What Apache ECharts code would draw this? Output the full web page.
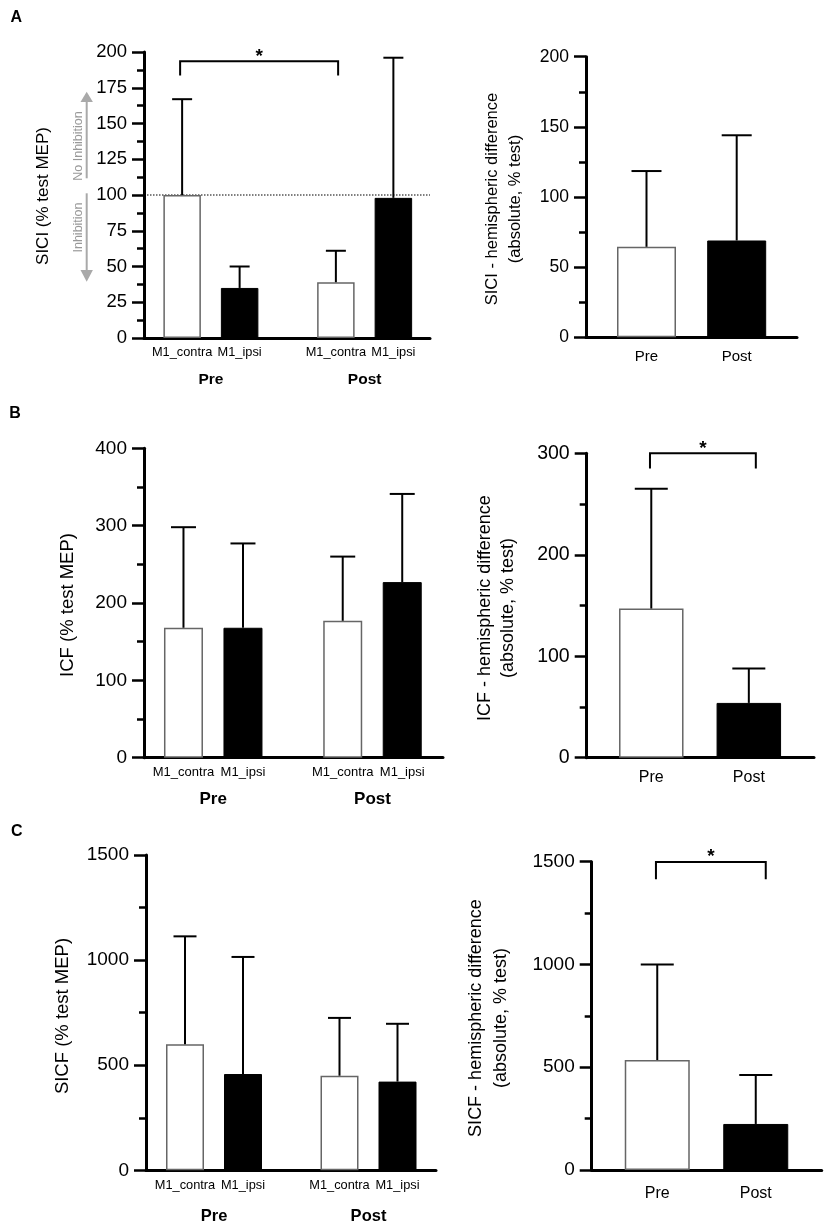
<!DOCTYPE html>
<html>
<head>
<meta charset="utf-8">
<script src="https://cdn.jsdelivr.net/npm/echarts@6/dist/echarts.min.js"></script>
<style>
  html, body { margin: 0; padding: 0; background: #fff; }
  #chart { width: 829px; height: 1228px; }
</style>
</head>
<body>
<div id="chart"></div>
<script>
// ---- data ----
const groups = ['Pre', 'Post'];
const hemispheres = ['M1_contra', 'M1_ipsi'];

// SICI (% test MEP): mean and SD
const siciContra = [100, 39];
const siciContraSd = [67, 22];
const siciIpsi = [35, 98];
const siciIpsiSd = [15, 98];
// SICI hemispheric difference
const siciDiff = [64.5, 69];
const siciDiffSd = [54, 75];

// ICF (% test MEP)
const icfContra = [168, 177];
const icfContraSd = [130, 83];
const icfIpsi = [168, 227];
const icfIpsiSd = [109, 114];
const icfDiff = [147, 54];
const icfDiffSd = [118, 34];

// SICF (% test MEP)
const sicfContra = [600, 450];
const sicfContraSd = [513, 275];
const sicfIpsi = [458, 422];
const sicfIpsiSd = [557, 275];
const sicfDiff = [535, 224];
const sicfDiffSd = [465, 238];

// significance brackets: [fromGroup, toGroup, bracket top, leg bottom]
const siciSig = [[0, 1, 193.5, 183.5]];
const icfDiffSig = [[0, 1, 300, 285]];
const sicfDiffSig = [[0, 1, 1498, 1415]];

// y scales: [max, interval]
const siciScale = [200, 25];
const siciDiffScale = [200, 50];
const icfScale = [400, 100];
const icfDiffScale = [300, 100];
const sicfScale = [1500, 500];
const sicfDiffScale = [1500, 500];

const siciRef = 100;

// ---- layout / style ----
const FONT = '"Liberation Sans", Arial, Helvetica, sans-serif';
const fills = [
  { color: '#fff', borderColor: '#666', borderWidth: 1.5 },
  { color: '#000', borderColor: '#000', borderWidth: 1 }
];

const L = {
  AL: { x0: 144, x1: 430, y0: 52, y1: 338, d0: 134, d1: 441.5, bw: 37.5, gap: 20, cap: 20,
        tickFont: 18.5, catFont: 15.5, catBold: true, catMargin: 34, subFont: 12.8, subDist: 8 },
  AR: { x0: 586, x1: 797, y0: 56.7, y1: 337.3, d0: 601.4, d1: 781.8, bw: 59, cap: 30,
        tickFont: 17.5, catFont: 15, catBold: false, catMargin: 12 },
  BL: { x0: 144, x1: 443, y0: 448.3, y1: 757.7, d0: 133.6, d1: 452.1, bw: 39, gap: 20.5, cap: 25,
        tickFont: 19, catFont: 17, catBold: true, catMargin: 33, subFont: 13, subDist: 8 },
  BR: { x0: 586.7, x1: 814, y0: 453.3, y1: 757.7, d0: 602.5, d1: 797.6, bw: 64.5, cap: 33,
        tickFont: 19.5, catFont: 16, catBold: false, catMargin: 12 },
  CL: { x0: 146, x1: 436, y0: 855, y1: 1170.3, d0: 136.75, d1: 445.75, bw: 38, gap: 20, cap: 23,
        tickFont: 19, catFont: 16.5, catBold: true, catMargin: 38, subFont: 12.8, subDist: 9 },
  CR: { x0: 591.7, x1: 821.7, y0: 861.7, y1: 1170, d0: 608, d1: 805, bw: 65, cap: 33,
        tickFont: 19, catFont: 16, catBold: false, catMargin: 16 }
};

const grids = [], xAxes = [], yAxes = [], series = [];

function addAxes(lay, scale) {
  const fi = grids.length;
  grids.push({ left: lay.x0, top: lay.y0, width: lay.x1 - lay.x0, height: lay.y1 - lay.y0, outerBoundsMode: 'none' });
  xAxes.push({
    gridIndex: fi, type: 'category', data: groups.map(() => ''),
    axisLine: { show: true, lineStyle: { color: '#000', width: 3 } },
    axisTick: { show: false }, axisLabel: { show: false }, splitLine: { show: false }
  });
  yAxes.push({
    gridIndex: fi, type: 'value', min: 0, max: scale[0], interval: scale[1],
    axisLine: { show: true, lineStyle: { color: '#000', width: 3 } },
    axisTick: { show: true, length: 12, lineStyle: { color: '#000', width: 2.5 } },
    minorTick: { show: true, splitNumber: 2, length: 7, lineStyle: { color: '#000', width: 2.5 } },
    axisLabel: { fontFamily: FONT, fontSize: lay.tickFont, color: '#000', margin: 17,
                 formatter: v => String(v) },
    splitLine: { show: false }, minorSplitLine: { show: false }
  });
  const di = grids.length;
  grids.push({ left: lay.d0, top: lay.y0, width: lay.d1 - lay.d0, height: lay.y1 - lay.y0, outerBoundsMode: 'none' });
  xAxes.push({
    gridIndex: di, type: 'category', data: groups,
    axisLine: { show: false }, axisTick: { show: false }, splitLine: { show: false },
    axisLabel: {
      fontFamily: FONT, fontSize: lay.catFont, fontWeight: lay.catBold ? 'bold' : 'normal',
      color: '#000', margin: lay.catMargin
    }
  });
  yAxes.push({ gridIndex: di, type: 'value', min: 0, max: scale[0], show: false });
  return { fi, di };
}

function errorBars(ax, mean, sd, dx, cap) {
  return {
    type: 'custom', xAxisIndex: ax, yAxisIndex: ax, z: 3, silent: true,
    data: mean.map((m, i) => [i, m, sd[i]]),
    renderItem: (params, api) => {
      const c = api.value(0), m = api.value(1), s = api.value(2);
      const p0 = api.coord([c, m]);
      const p1 = api.coord([c, m + s]);
      const x = p0[0] + dx;
      const st = { stroke: '#000', lineWidth: 2 };
      return {
        type: 'group', children: [
          { type: 'line', shape: { x1: x, y1: p0[1], x2: x, y2: p1[1] }, style: st },
          { type: 'line', shape: { x1: x - cap / 2, y1: p1[1], x2: x + cap / 2, y2: p1[1] }, style: st }
        ]
      };
    }
  };
}

function bracket(ax, sig, dx0, dx1) {
  return {
    type: 'custom', xAxisIndex: ax, yAxisIndex: ax, z: 4, silent: true,
    data: sig,
    renderItem: (params, api) => {
      const a = api.coord([api.value(0), api.value(2)]);
      const b = api.coord([api.value(1), api.value(2)]);
      const legY = api.coord([0, api.value(3)])[1];
      const x0 = a[0] + dx0, x1 = b[0] + dx1;
      return {
        type: 'group', children: [
          { type: 'polyline', shape: { points: [[x0, legY], [x0, a[1]], [x1, a[1]], [x1, legY]] },
            style: { stroke: '#000', lineWidth: 2, fill: null } },
          { type: 'text', x: (x0 + x1) / 2, y: a[1] - 5,
            style: { text: '*', fontFamily: FONT, fontSize: 19, fontWeight: 'bold', fill: '#000',
                     align: 'center', verticalAlign: 'middle' } }
        ]
      };
    }
  };
}

function groupedPanel(lay, scale, means, sds) {
  const ax = addAxes(lay, scale);
  hemispheres.forEach((name, k) => {
    series.push({
      type: 'bar', name, xAxisIndex: ax.di, yAxisIndex: ax.di, silent: true,
      data: means[k], barWidth: lay.bw, barGap: (lay.gap / lay.bw * 100) + '%',
      itemStyle: fills[k],
      label: { show: true, position: 'bottom', distance: lay.subDist, formatter: '{a}',
               fontFamily: FONT, fontSize: lay.subFont, color: '#000' }
    });
    series.push(errorBars(ax.di, means[k], sds[k], (k - 0.5) * (lay.bw + lay.gap), lay.cap));
  });
  return ax;
}

function diffPanel(lay, scale, mean, sd) {
  const ax = addAxes(lay, scale);
  series.push({
    type: 'bar', xAxisIndex: ax.di, yAxisIndex: ax.di, silent: true, barWidth: lay.bw,
    data: mean.map((v, i) => ({ value: v, itemStyle: fills[i] }))
  });
  series.push(errorBars(ax.di, mean, sd, 0, lay.cap));
  return ax;
}

// A
const axAL = groupedPanel(L.AL, siciScale, [siciContra, siciIpsi], [siciContraSd, siciIpsiSd]);
series.push({
  type: 'custom', xAxisIndex: axAL.fi, yAxisIndex: axAL.fi, silent: true, z: 2,
  data: [[0, siciRef]],
  renderItem: (params, api) => {
    const y = api.coord([0, api.value(1)])[1];
    const cs = params.coordSys;
    return { type: 'line', shape: { x1: cs.x, y1: y, x2: cs.x + cs.width, y2: y },
             style: { stroke: '#000', lineWidth: 1.2, lineDash: [1.5, 1.5] } };
  }
});
series.push(bracket(axAL.di, siciSig, -30.75, -26.5));
diffPanel(L.AR, siciDiffScale, siciDiff, siciDiffSd);

// B
groupedPanel(L.BL, icfScale, [icfContra, icfIpsi], [icfContraSd, icfIpsiSd]);
const axBR = diffPanel(L.BR, icfDiffScale, icfDiff, icfDiffSd);
series.push(bracket(axBR.di, icfDiffSig, -1.3, 7));

// C
groupedPanel(L.CL, sicfScale, [sicfContra, sicfIpsi], [sicfContraSd, sicfIpsiSd]);
const axCR = diffPanel(L.CR, sicfDiffScale, sicfDiff, sicfDiffSd);
series.push(bracket(axCR.di, sicfDiffSig, -1.3, 10));

// ---- annotations ----
const panelLetters = [['A', 16.3, 17.5], ['B', 15, 414], ['C', 16.8, 831.5]];
const yTitles = [
  ['SICI (% test MEP)', 43, 196, 17, 20],
  ['ICF (% test MEP)', 68, 605, 18.5, 22],
  ['SICF (% test MEP)', 63, 1016, 18.5, 22],
  ['SICI - hemispheric difference\n(absolute, % test)', 503.5, 199, 16.5, 23],
  ['ICF - hemispheric difference\n(absolute, % test)', 496.5, 608, 18, 23],
  ['SICF - hemispheric difference\n(absolute, % test)', 489, 1018, 18, 25]
];

const GRAY = '#a9a9a9';
const graphic = [];
panelLetters.forEach(([t, x, y]) => graphic.push({
  type: 'text', x, y,
  style: { text: t, fontFamily: FONT, fontSize: 16, fontWeight: 'bold', fill: '#000',
           align: 'center', verticalAlign: 'middle' }
}));
yTitles.forEach(([t, x, y, size, lh]) => graphic.push({
  type: 'text', x, y, rotation: Math.PI / 2,
  style: { text: t, fontFamily: FONT, fontSize: size, lineHeight: lh, fill: '#000',
           align: 'center', verticalAlign: 'middle' }
}));
// inhibition arrows beside the SICI axis
graphic.push(
  { type: 'line', shape: { x1: 86.7, y1: 101, x2: 86.7, y2: 178.3 }, style: { stroke: GRAY, lineWidth: 2 } },
  { type: 'polygon', shape: { points: [[86.7, 91.7], [80.5, 102], [92.9, 102]] }, style: { fill: GRAY } },
  { type: 'line', shape: { x1: 86.7, y1: 193.3, x2: 86.7, y2: 271 }, style: { stroke: GRAY, lineWidth: 2 } },
  { type: 'polygon', shape: { points: [[86.7, 281.7], [80.5, 270], [92.9, 270]] }, style: { fill: GRAY } },
  { type: 'text', x: 78.3, y: 146, rotation: Math.PI / 2,
    style: { text: 'No Inhibition', fontFamily: FONT, fontSize: 12.5, fill: '#999', align: 'center', verticalAlign: 'middle' } },
  { type: 'text', x: 78.3, y: 227.5, rotation: Math.PI / 2,
    style: { text: 'Inhibition', fontFamily: FONT, fontSize: 12.5, fill: '#999', align: 'center', verticalAlign: 'middle' } }
);

const chart = echarts.init(document.getElementById('chart'), null, { renderer: 'canvas' });
chart.setOption({
  animation: false,
  backgroundColor: '#fff',
  textStyle: { fontFamily: FONT },
  grid: grids,
  xAxis: xAxes,
  yAxis: yAxes,
  series,
  graphic
});
</script>
</body>
</html>
